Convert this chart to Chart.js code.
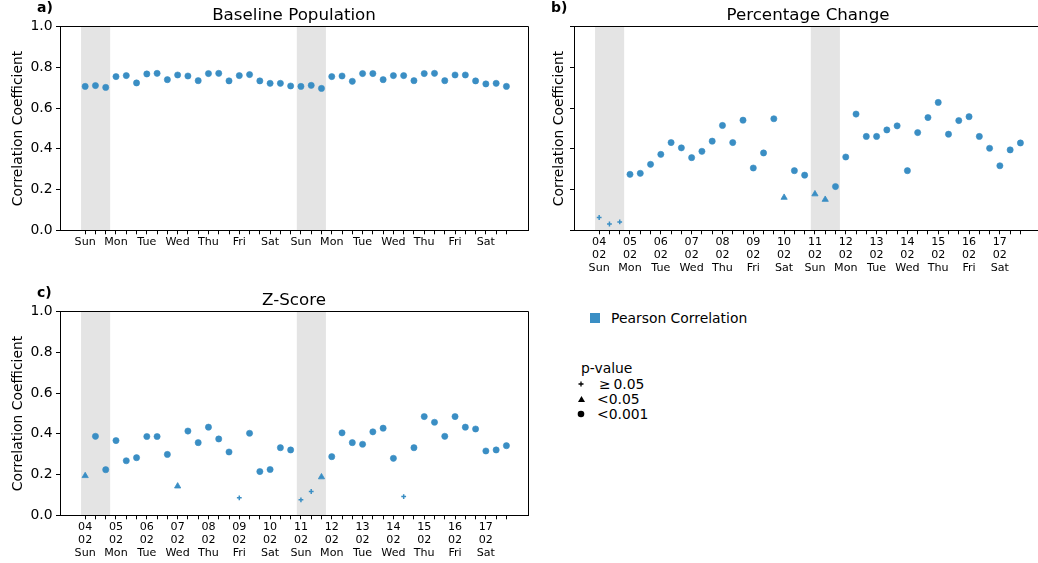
<!DOCTYPE html>
<html>
<head>
<meta charset="utf-8">
<script src="https://cdn.jsdelivr.net/npm/chart.js@4/dist/chart.umd.min.js"></script>
<style>
  html, body { margin: 0; padding: 0; background: #fff; }
  body { width: 1038px; height: 563px; position: relative; overflow: hidden;
         font-family: "DejaVu Sans", sans-serif; color: #000; }
  canvas { position: absolute; }
  .lg { position: absolute; font-size: 13.9px; line-height: 16px; white-space: nowrap; }
  .mk { position: absolute; }
</style>
</head>
<body>
<canvas id="chartA" width="540" height="282" style="left:0;top:0"></canvas>
<canvas id="chartB" width="540" height="285" style="left:514px;top:0"></canvas>
<canvas id="chartC" width="540" height="278" style="left:0;top:285px"></canvas>
<div id="legend"></div>

<script>
// --- data ---
const days = ["Sun", "Mon", "Tue", "Wed", "Thu", "Fri", "Sat", "Sun", "Mon", "Tue", "Wed", "Thu", "Fri", "Sat"];
const dates = ["04", "05", "06", "07", "08", "09", "10", "11", "12", "13", "14", "15", "16", "17"];
const month = "02";

// three points per day, 42 in total
const baseline = [0.707, 0.711, 0.702, 0.755, 0.760, 0.724, 0.768, 0.771, 0.740, 0.763, 0.758, 0.735,
  0.770, 0.771, 0.734, 0.760, 0.765, 0.734, 0.722, 0.722, 0.709, 0.707, 0.712, 0.697, 0.755, 0.758,
  0.732, 0.770, 0.770, 0.740, 0.760, 0.760, 0.735, 0.770, 0.771, 0.735, 0.763, 0.763, 0.734, 0.719,
  0.722, 0.707];
const baselineSig = baseline.map(() => 2);

const pctChange = [0.063, 0.031, 0.041, 0.275, 0.280, 0.324, 0.373, 0.431, 0.405, 0.357, 0.388, 0.438,
  0.515, 0.431, 0.541, 0.306, 0.380, 0.548, 0.161, 0.293, 0.271, 0.178, 0.151, 0.215, 0.360, 0.571,
  0.461, 0.461, 0.493, 0.513, 0.293, 0.480, 0.554, 0.628, 0.472, 0.539, 0.558, 0.461, 0.403, 0.317,
  0.395, 0.429];
// 0: p >= 0.05, 1: p < 0.05, 2: p < 0.001
const pctSig = [0, 0, 0, 2, 2, 2, 2, 2, 2, 2, 2, 2, 2, 2, 2, 2, 2, 2, 1, 2, 2, 1, 1, 2, 2, 2,
  2, 2, 2, 2, 2, 2, 2, 2, 2, 2, 2, 2, 2, 2, 2, 2];

const zScore = [0.194, 0.388, 0.224, 0.367, 0.268, 0.283, 0.387, 0.387, 0.299, 0.143, 0.414, 0.357,
  0.433, 0.375, 0.311, 0.086, 0.403, 0.215, 0.225, 0.332, 0.321, 0.076, 0.117, 0.188, 0.288, 0.405,
  0.357, 0.349, 0.410, 0.428, 0.280, 0.092, 0.332, 0.485, 0.457, 0.388, 0.485, 0.433, 0.424, 0.316,
  0.321, 0.342];
const zSig = [1, 2, 2, 2, 2, 2, 2, 2, 2, 1, 2, 2, 2, 2, 2, 0, 2, 2, 2, 2, 2, 0, 0, 1, 2, 2,
  2, 2, 2, 2, 2, 0, 2, 2, 2, 2, 2, 2, 2, 2, 2, 2];

const sigLabels = ["\u2265\u20090.05", "<0.05", "<0.001"];
const weekendBands = [[-0.4, 2.43], [20.6, 23.43]];

// --- styling ---
const BLUE = "#3a8ec4";
const markerStyle = ["cross", "triangle", "circle"];
const markerRadius = [2.4, 3.6, 3.1];
const markerBorder = [1.5, 0.8, 0.6];

Chart.defaults.font.family = "'DejaVu Sans', sans-serif";
Chart.defaults.color = "#000";

function alignPx(p) { return Math.round(p - 0.5) + 0.5; }

const shadeBands = {
  id: "shadeBands",
  beforeDraw(chart) {
    const { ctx, chartArea: a, scales: { x } } = chart;
    ctx.save();
    ctx.fillStyle = "#e4e4e4";
    weekendBands.forEach(([s, e]) => {
      const x0 = x.getPixelForValue(s), x1 = x.getPixelForValue(e);
      ctx.fillRect(x0, a.top, x1 - x0, a.bottom - a.top);
    });
    ctx.restore();
  }
};

// top and right spines + panel letter
const frame = {
  id: "frame",
  afterDraw(chart, args, opts) {
    const { ctx, chartArea: a } = chart;
    ctx.save();
    ctx.strokeStyle = "#000";
    ctx.lineWidth = 1;
    const t = alignPx(a.top), r = alignPx(a.right), b = alignPx(a.bottom), l = alignPx(a.left);
    ctx.beginPath();
    ctx.moveTo(l, t); ctx.lineTo(r, t); ctx.lineTo(r, b);
    ctx.stroke();
    ctx.font = "bold 14px 'DejaVu Sans', sans-serif";
    ctx.fillStyle = "#000";
    ctx.textBaseline = "alphabetic";
    ctx.fillText(opts.letter, a.left - 23, 12);
    ctx.restore();
  }
};

function makePanel(id, opts) {
  const values = opts.values, sig = opts.sig;
  const ticksAt = values.map((v, i) => i);
  return new Chart(document.getElementById(id), {
    type: "scatter",
    data: {
      datasets: [{
        label: "Pearson Correlation",
        data: values.map((y, i) => ({ x: i, y: y })),
        backgroundColor: BLUE,
        borderColor: BLUE,
        pointStyle: c => markerStyle[sig[c.dataIndex]],
        pointRadius: c => markerRadius[sig[c.dataIndex]],
        pointBorderWidth: c => markerBorder[sig[c.dataIndex]]
      }]
    },
    options: {
      responsive: false,
      animation: false,
      devicePixelRatio: 1,
      layout: { padding: { left: 0, right: 12, top: 0, bottom: opts.padBottom } },
      plugins: {
        legend: { display: false },
        tooltip: { enabled: false },
        title: {
          display: true,
          text: opts.title,
          fullSize: false,
          color: "#000",
          font: { size: 16.7, weight: "normal" },
          padding: { top: 5.8, bottom: 0.9 }
        },
        frame: { letter: opts.letter }
      },
      scales: {
        x: {
          type: "linear",
          min: -2.45,
          max: 43.1,
          afterBuildTicks: s => { s.ticks = ticksAt.map(v => ({ value: v })); },
          afterFit: s => { s.height = opts.xHeight; },
          ticks: {
            autoSkip: false,
            maxRotation: 0,
            padding: 2,
            color: "#000",
            font: { size: 11.1, lineHeight: 1.13 },
            callback: v => (v % 3 === 0 ? opts.label(v / 3) : "")
          },
          grid: { drawOnChartArea: false, drawTicks: true, tickLength: 4, color: "#000", lineWidth: 1 },
          border: { display: true, color: "#000", width: 1 }
        },
        y: {
          min: 0,
          max: 1,
          afterFit: s => { s.width = 60; },
          ticks: {
            stepSize: 0.2,
            padding: 3.5,
            color: "#000",
            font: { size: 13.9 },
            callback: v => (opts.yLabels ? v.toFixed(1) : "")
          },
          grid: { drawOnChartArea: false, drawTicks: true, tickLength: 4, color: "#000", lineWidth: 1 },
          border: { display: true, color: "#000", width: 1 },
          title: {
            display: true,
            text: "Correlation Coefficient",
            color: "#000",
            font: { size: 13.9 },
            padding: { top: opts.yTitlePad, bottom: 0 }
          }
        }
      }
    },
    plugins: [shadeBands, frame]
  });
}

const dayOnly = i => days[i];
const dateLabel = i => [dates[i], month, days[i]];

makePanel("chartA", { values: baseline, sig: baselineSig, title: "Baseline Population", letter: "a)",
  label: dayOnly, xHeight: 20, padBottom: 31.7, yLabels: true, yTitlePad: 9.66 });
makePanel("chartB", { values: pctChange, sig: pctSig, title: "Percentage Change", letter: "b)",
  label: dateLabel, xHeight: 45, padBottom: 9.7, yLabels: false, yTitlePad: 36.66 });
makePanel("chartC", { values: zScore, sig: zSig, title: "Z-Score", letter: "c)",
  label: dateLabel, xHeight: 45, padBottom: 2.7, yLabels: true, yTitlePad: 9.66 });

// --- legend (html) ---
const lg = document.getElementById("legend");
const svgMarks = [
  '<svg class="mk" width="8" height="8" style="left:577px;top:380px"><path d="M4 1.5V6.5M1.5 4H6.5" stroke="#000" stroke-width="1.3"/></svg>',
  '<svg class="mk" width="9" height="8" style="left:577px;top:395px"><path d="M4.5 1L8 7H1Z" fill="#000"/></svg>',
  '<svg class="mk" width="8" height="8" style="left:577px;top:410px"><circle cx="4" cy="4" r="3.3" fill="#000"/></svg>'
];
let html = '<div class="mk" style="left:590px;top:313px;width:10px;height:10px;background:' + BLUE + '"></div>';
html += '<div class="lg" style="left:611px;top:310px">Pearson Correlation</div>';
html += '<div class="lg" style="left:581px;top:360px">p-value</div>';
sigLabels.forEach((t, i) => {
  html += svgMarks[i];
  html += '<div class="lg" style="left:' + (i === 0 ? 599 : 597) + 'px;top:' + (376 + i * 15) + 'px">' + t + '</div>';
});
lg.innerHTML = html;
</script>
</body>
</html>
